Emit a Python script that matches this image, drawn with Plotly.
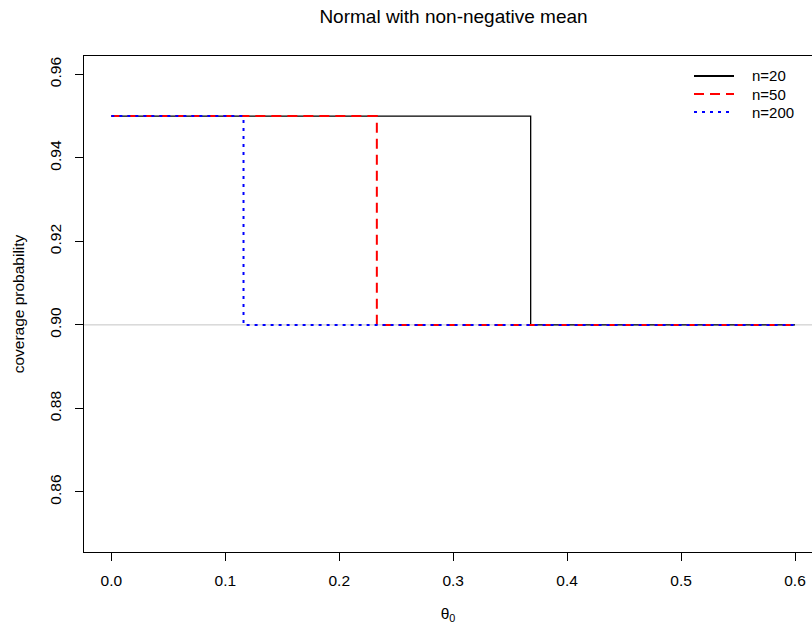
import plotly.graph_objects as go

# step locations (theta_0 where coverage drops)
n_labels = ["n=20", "n=50", "n=200"]
step_points = [0.368, 0.233, 0.116]
theta_start = 0.0
theta_end = 0.6
cov_high = 0.95
cov_low = 0.90
ref_level = 0.90
colors = ["black", "red", "blue"]
dashes = ["solid", "10px,6px", "3px,5px"]
widths = [1.3, 2, 2]

x_ticks = [0.0, 0.1, 0.2, 0.3, 0.4, 0.5, 0.6]
x_tick_text = ["0.0", "0.1", "0.2", "0.3", "0.4", "0.5", "0.6"]
y_ticks = [0.86, 0.88, 0.90, 0.92, 0.94, 0.96]
y_tick_text = ["0.86", "0.88", "0.90", "0.92", "0.94", "0.96"]

FONT = "Liberation Sans, Arial, Helvetica, sans-serif"
W, H = 812, 628
ML, MR, MT, MB = 84, 0, 56, 76

fig = go.Figure()
for lab, s, c, d, w in zip(n_labels, step_points, colors, dashes, widths):
    fig.add_trace(go.Scatter(
        x=[theta_start, s, theta_end],
        y=[cov_high, cov_low, cov_low],
        mode="lines",
        line=dict(shape="hv", color=c, dash=d, width=w),
        name=lab,
        showlegend=False,
    ))

fig.add_shape(type="line", xref="paper", yref="y", x0=0, x1=1, y0=ref_level, y1=ref_level,
              line=dict(color="#C4C4C4", width=1), layer="below")

# legend (manual, to match R's compact row spacing)
pw = W - ML - MR
ph = H - MT - MB
def px_x(p):
    return (p - ML) / pw
def px_y(p):
    return 1 - (p - MT) / ph

legend_rows = [76, 94, 112]
for lab, c, d, ry in zip(n_labels, colors, dashes, legend_rows):
    fig.add_shape(type="line", xref="paper", yref="paper",
                  x0=px_x(694), x1=px_x(734), y0=px_y(ry), y1=px_y(ry),
                  line=dict(color=c, dash=d, width=2))
    fig.add_annotation(xref="paper", yref="paper", x=px_x(750), y=px_y(ry),
                       text=lab, showarrow=False, xanchor="left", yanchor="middle",
                       font=dict(size=15, family=FONT, color="black"))

fig.update_layout(
    width=W, height=H,
    margin=dict(l=ML, r=MR, t=MT, b=MB),
    paper_bgcolor="white", plot_bgcolor="white",
    font=dict(family=FONT, size=15.5, color="black"),
    title=dict(text="Normal with non-negative mean", x=(84 + 823) / 2 / 812, xanchor="center",
               y=1 - 16 / 628, yanchor="middle", font=dict(size=19, family=FONT)),
    showlegend=False,
    xaxis=dict(range=[-0.024, 0.6149], tickvals=x_ticks, ticktext=x_tick_text,
               showgrid=False, zeroline=False, showline=True, linecolor="black", linewidth=1,
               mirror=True, ticks="outside", ticklen=8, tickcolor="black",
               ticklabelstandoff=6,
               title=dict(text="θ<sub>0</sub>", standoff=20, font=dict(size=15.5))),
    yaxis=dict(range=[0.8456, 0.9644], tickvals=y_ticks, ticktext=y_tick_text, tickangle=-90,
               showgrid=False, zeroline=False, showline=True, linecolor="black", linewidth=1,
               mirror=False, ticks="outside", ticklen=8, tickcolor="black",
               ticklabelstandoff=8,
               title=dict(text="coverage probability", standoff=18, font=dict(size=15.5))),
)

fig.write_html("out.html")
